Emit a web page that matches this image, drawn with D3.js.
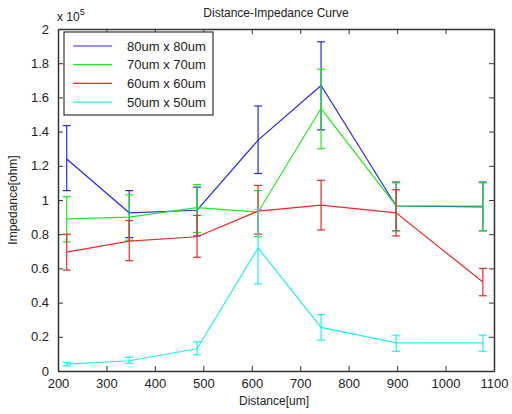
<!DOCTYPE html>
<html>
<head>
<meta charset="utf-8">
<script src="https://cdn.jsdelivr.net/npm/d3@7"></script>
<style>
  body { margin: 0; background: #fff; }
  svg text { font-family: "Liberation Sans", Arial, sans-serif; fill: #222; }
</style>
</head>
<body>
<div id="chart"></div>
<script>
// distance points (um)
var distances = [218, 347, 487, 613, 743, 898, 1077];

// impedance, in units of 1e5 ohm : mean, upper, lower
var seriesNames = ['80um x 80um', '70um x 70um', '60um x 60um', '50um x 50um'];
var seriesColors = ['#2a2ae8', '#22e822', '#ec2a2a', '#22eeee'];

var mean80 = [1.24, 0.925, 0.94, 1.35, 1.67, 0.965, 0.96];
var upper80 = [1.435, 1.055, 1.075, 1.55, 1.925, 1.105, 1.105];
var lower80 = [1.055, 0.78, 0.79, 1.155, 1.41, 0.82, 0.82];

var mean70 = [0.89, 0.90, 0.955, 0.93, 1.535, 0.965, 0.965];
var upper70 = [1.02, 1.03, 1.09, 1.055, 1.765, 1.10, 1.10];
var lower70 = [0.755, 0.765, 0.81, 0.785, 1.30, 0.82, 0.82];

var mean60 = [0.695, 0.76, 0.785, 0.935, 0.97, 0.925, 0.52];
var upper60 = [0.80, 0.88, 0.91, 1.085, 1.115, 1.06, 0.60];
var lower60 = [0.59, 0.645, 0.665, 0.80, 0.825, 0.79, 0.44];

var mean50 = [0.04, 0.06, 0.13, 0.72, 0.255, 0.165, 0.165];
var upper50 = [0.05, 0.08, 0.17, 0.945, 0.33, 0.21, 0.21];
var lower50 = [0.03, 0.045, 0.095, 0.51, 0.18, 0.115, 0.115];

var xTicks = [200, 300, 400, 500, 600, 700, 800, 900, 1000, 1100];
var yTicks = [0, 0.2, 0.4, 0.6, 0.8, 1, 1.2, 1.4, 1.6, 1.8, 2];

var means = [mean80, mean70, mean60, mean50];
var uppers = [upper80, upper70, upper60, upper50];
var lowers = [lower80, lower70, lower60, lower50];

var width = 512, height = 414;
var margin = {left: 58, right: 18, top: 29, bottom: 43};

var svg = d3.select('#chart').append('svg')
  .attr('width', width)
  .attr('height', height);

var x = d3.scaleLinear().domain([200, 1100]).range([margin.left, width - margin.right]);
var y = d3.scaleLinear().domain([0, 2]).range([height - margin.bottom, margin.top]);

var axisColor = '#333';
var tickLen = 5;

// axes (ticks point inward, like matlab)
svg.append('g')
  .attr('transform', 'translate(0,' + y(0) + ')')
  .call(d3.axisBottom(x).tickValues(xTicks).tickSizeInner(-tickLen).tickSizeOuter(0).tickPadding(8).tickFormat(d3.format('d')))
  .call(styleAxis);

svg.append('g')
  .attr('transform', 'translate(0,' + y(2) + ')')
  .call(d3.axisTop(x).tickValues(xTicks).tickSizeInner(-tickLen).tickSizeOuter(0).tickFormat(''))
  .call(styleAxis);

svg.append('g')
  .attr('transform', 'translate(' + x(200) + ',0)')
  .call(d3.axisLeft(y).tickValues(yTicks).tickSizeInner(-tickLen).tickSizeOuter(0).tickPadding(9).tickFormat(function(d){ return String(+d.toFixed(1)); }))
  .call(styleAxis);

svg.append('g')
  .attr('transform', 'translate(' + x(1100) + ',0)')
  .call(d3.axisRight(y).tickValues(yTicks).tickSizeInner(-tickLen).tickSizeOuter(0).tickFormat(''))
  .call(styleAxis);

function styleAxis(g){
  g.select('.domain').attr('stroke', axisColor).attr('stroke-width', 1.5);
  g.selectAll('.tick line').attr('stroke', axisColor).attr('stroke-width', 1);
  g.selectAll('.tick text')
    .style('font-family', '"Liberation Sans", Arial, sans-serif')
    .style('font-size', '13px')
    .attr('fill', '#222');
}

// data: lines + error bars
var capW = 4;
seriesNames.forEach(function(name, s){
  var pts = distances.map(function(d, i){
    return {x: d, m: means[s][i], hi: uppers[s][i], lo: lowers[s][i]};
  });
  var g = svg.append('g').attr('stroke', seriesColors[s]).attr('fill', 'none').attr('stroke-width', 1.2);

  g.append('path')
    .attr('d', d3.line().x(function(p){ return x(p.x); }).y(function(p){ return y(p.m); })(pts));

  var eb = g.selectAll('.eb').data(pts).enter().append('g');
  eb.append('line')
    .attr('x1', function(p){ return x(p.x); }).attr('x2', function(p){ return x(p.x); })
    .attr('y1', function(p){ return y(p.hi); }).attr('y2', function(p){ return y(p.lo); });
  eb.append('line')
    .attr('x1', function(p){ return x(p.x) - capW; }).attr('x2', function(p){ return x(p.x) + capW; })
    .attr('y1', function(p){ return y(p.hi); }).attr('y2', function(p){ return y(p.hi); });
  eb.append('line')
    .attr('x1', function(p){ return x(p.x) - capW; }).attr('x2', function(p){ return x(p.x) + capW; })
    .attr('y1', function(p){ return y(p.lo); }).attr('y2', function(p){ return y(p.lo); });
});

// legend
var leg = svg.append('g').attr('transform', 'translate(64,32)');
leg.append('rect')
  .attr('width', 149).attr('height', 83)
  .attr('fill', '#fff').attr('stroke', axisColor).attr('stroke-width', 1.2);
seriesNames.forEach(function(name, s){
  var ly = 14 + s * 18.7;
  leg.append('line')
    .attr('x1', 9).attr('x2', 48).attr('y1', ly).attr('y2', ly)
    .attr('stroke', seriesColors[s]).attr('stroke-width', 1.2);
  leg.append('text')
    .attr('x', 63).attr('y', ly + 4.5)
    .style('font-size', '13px')
    .text(name);
});

// labels
svg.append('text')
  .attr('x', 276).attr('y', 17)
  .attr('text-anchor', 'middle')
  .style('font-size', '12px')
  .text('Distance-Impedance Curve');

svg.append('text')
  .attr('x', 274).attr('y', 405)
  .attr('text-anchor', 'middle')
  .style('font-size', '12px')
  .text('Distance[um]');

svg.append('text')
  .attr('transform', 'translate(17,' + ((margin.top + height - margin.bottom) / 2) + ') rotate(-90)')
  .attr('text-anchor', 'middle')
  .style('font-size', '12px')
  .text('Impedance[ohm]');

var exp = svg.append('text')
  .attr('x', 57).attr('y', 21)
  .style('font-size', '12px');
exp.append('tspan').text('x 10');
exp.append('tspan').attr('dy', -6).style('font-size', '9px').text('5');
</script>
</body>
</html>
